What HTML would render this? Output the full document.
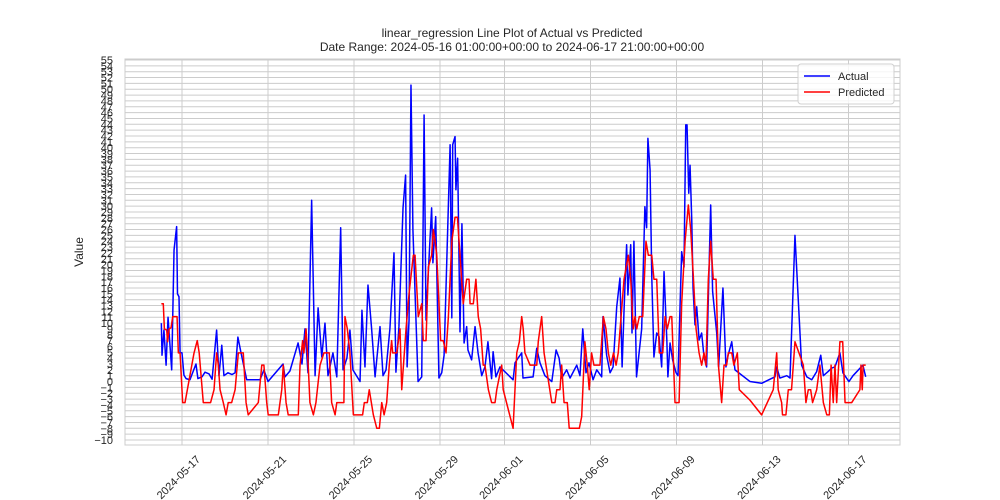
<!DOCTYPE html>
<html><head><meta charset="utf-8"><style>body{margin:0;background:#fff}svg{display:block;font-family:"Liberation Sans",sans-serif}</style></head>
<body>
<svg id="chart" width="1000" height="500" viewBox="0 0 1000 500" xmlns="http://www.w3.org/2000/svg">
<rect width="1000" height="500" fill="#fff"/>
<g id="grid"></g>
<g id="series"></g>
<rect x="125" y="59" width="775" height="386" fill="none" stroke="#cccccc" stroke-width="1"/>
<g id="yticks" font-size="11" fill="#262626" text-anchor="end"></g>
<g id="xticks" font-size="11" fill="#262626" text-anchor="end"></g>
<text x="512" y="37" font-size="12" text-anchor="middle" fill="#262626">linear_regression Line Plot of Actual vs Predicted</text>
<text x="512" y="51" font-size="12" text-anchor="middle" fill="#262626">Date Range: 2024-05-16 01:00:00+00:00 to 2024-06-17 21:00:00+00:00</text>
<text x="0" y="0" font-size="12" fill="#262626" text-anchor="middle" transform="translate(83,252) rotate(-90)">Value</text>
<g>
<rect x="798" y="64" width="96" height="40" rx="3" fill="#fff" fill-opacity="0.8" stroke="#d0d0d0"/>
<line x1="804" y1="76" x2="830" y2="76" stroke="#0000ff" stroke-width="1.5"/>
<text x="838" y="80" font-size="11" fill="#262626">Actual</text>
<line x1="804" y1="92" x2="830" y2="92" stroke="#ff0000" stroke-width="1.5"/>
<text x="838" y="96" font-size="11" fill="#262626">Predicted</text>
</g>
</svg>
<script>
// time in days since 2024-05-16 00:00 UTC
const actualT=[0.04,0.07,0.16,0.26,0.35,0.52,0.63,0.75,0.79,0.86,0.91,1.0,1.09,1.19,1.37,1.65,1.74,1.93,2.07,2.26,2.40,2.61,2.72,2.85,2.95,3.14,3.33,3.47,3.60,3.74,4.01,4.63,4.81,5.0,5.70,5.79,6.02,6.40,6.58,6.72,6.86,7.03,7.19,7.33,7.5,7.65,7.79,8.02,8.2,8.38,8.49,8.67,8.81,8.95,9.28,9.37,9.51,9.65,9.82,9.98,10.21,10.35,10.49,10.67,10.86,10.95,11.09,11.28,11.40,11.47,11.56,11.65,11.74,11.98,12.15,12.26,12.35,12.44,12.53,12.61,12.67,12.8,12.95,13.08,13.19,13.47,13.55,13.59,13.70,13.74,13.82,13.93,14.02,14.12,14.24,14.3,14.47,14.63,14.77,14.94,15.09,15.23,15.4,15.47,15.6,15.79,16.4,16.49,16.63,16.8,16.86,17.33,17.5,17.65,17.88,18.2,18.4,18.54,18.66,18.89,19.05,19.36,19.51,19.64,19.79,19.93,20.12,20.29,20.52,20.58,20.75,20.91,21.05,21.22,21.37,21.47,21.56,21.68,21.74,21.87,21.93,22.02,22.14,22.38,22.53,22.61,22.67,22.77,22.85,22.95,23.08,23.19,23.31,23.42,23.55,23.6,23.7,23.82,23.98,24.07,24.24,24.35,24.43,24.49,24.57,24.63,24.71,24.77,24.86,24.94,25.05,25.17,25.28,25.4,25.59,25.68,25.87,25.96,26.16,26.3,26.4,26.57,26.72,27.42,27.96,28.58,28.66,28.81,29.13,29.28,29.51,29.82,30.06,30.29,30.52,30.71,30.83,31.05,31.22,31.37,31.6,31.74,32.02,32.21,32.67,32.8];
const actualV=[10,4.5,8.8,2.8,11,2,22.5,26.5,15,14.5,5,4.9,1.1,0.5,0.3,3,0.5,0.8,1.6,1.3,0.4,8.8,1.0,6.2,1,1.5,1.2,1.5,7.6,5,0.3,0.3,2,0,3,0.8,1.8,6.6,3,9,1.5,31,1,12.6,4.2,10,1,4.9,0.8,26.3,2,4,8.8,2,0,12.2,2.5,16.5,9,0.8,9.4,1,2,9,22,1.6,9.4,29.7,35.3,2.5,10.5,50.7,26,0,0.8,45.6,10.5,17.4,24,29.7,20.3,28.2,0.6,1.5,4.5,40.5,10.9,40.5,41.9,32.8,38.2,8.5,27,6.6,9.4,5.4,3.7,9.4,4.9,1,2.5,6.8,0.5,5.1,0.8,2.5,0.3,3.2,4,4.9,0.6,0.8,5.7,3.2,1,0,5.4,4,0.6,2,0.6,2.8,1,9,1.5,3.2,0.3,2,0.8,11.1,4.5,1.5,2.5,12.8,17.7,2.5,12.2,23.4,14.8,23.4,8.3,24,0.8,9,29.9,26.3,41.6,36.2,17.9,4.2,8.3,7.7,2.5,18.8,7.1,0.8,6.6,3.7,1.5,1,22.2,19.6,43.9,43.9,32.2,37,27.6,16,9.7,12.8,7.1,8.3,4.2,2.5,30.2,15.4,8.3,2.5,16,2.5,4.5,6.8,2,0,-0.3,0.8,2.5,0.6,1,0.6,25,2.8,0.8,0.3,1.7,4.5,1,1.7,2.3,2.5,4.9,1.5,0,1,2.8,0.8];
const predT=[0.04,0.13,0.18,0.29,0.33,0.4,0.49,0.57,0.77,0.83,0.91,1.03,1.14,1.56,1.71,1.8,1.99,2.33,2.49,2.61,2.69,2.77,2.92,3.05,3.15,3.31,3.47,3.62,3.85,3.98,4.08,4.55,4.71,4.81,4.94,5.01,5.48,5.64,5.71,5.84,5.94,6.41,6.49,6.61,6.67,6.77,6.87,6.95,7.11,7.23,7.42,7.6,7.85,7.96,8.12,8.2,8.53,8.58,8.69,8.81,8.97,9.4,9.48,9.62,9.71,9.9,10.06,10.18,10.29,10.4,10.52,10.64,10.75,10.8,10.99,11.14,11.22,11.42,11.57,11.76,11.84,11.99,12.15,12.22,12.35,12.46,12.61,12.69,12.77,12.85,13.03,13.15,13.28,13.39,13.55,13.7,13.81,13.93,14.08,14.24,14.35,14.4,14.55,14.67,14.78,14.89,15.01,15.09,15.25,15.4,15.56,15.64,15.87,15.94,16.4,16.57,16.69,16.8,16.87,16.95,17.19,17.5,17.57,17.65,17.73,17.84,18.2,18.35,18.43,18.58,18.66,18.77,18.92,19.01,19.48,19.59,19.74,19.85,19.94,20.05,20.16,20.44,20.6,20.72,20.83,20.94,21.07,21.19,21.29,21.56,21.76,21.87,21.99,22.07,22.15,22.27,22.43,22.58,22.69,22.85,22.95,23.08,23.2,23.36,23.47,23.57,23.7,23.78,23.93,24.12,24.24,24.4,24.55,24.66,24.79,24.91,25.05,25.17,25.28,25.37,25.48,25.59,25.71,25.84,25.95,26.1,26.21,26.33,26.41,26.57,26.67,26.83,26.92,27.42,27.96,28.5,28.66,28.73,28.89,28.93,29.09,29.2,29.35,29.51,29.9,30.02,30.13,30.24,30.33,30.52,30.67,30.83,30.99,31.11,31.19,31.29,31.37,31.45,31.6,31.73,31.84,32.15,32.53,32.58,32.64,32.68,32.8];
const predV=[13.3,13.3,9,8.8,6.8,9,9.2,11.1,11.1,4.9,4.9,-3.6,-3.6,4.9,7,4.9,-3.6,-3.6,-1.4,4.9,2.8,-1.4,-3.6,-5.7,-3.6,-3.6,-1.4,4.9,4.9,-3.6,-5.7,-3.6,2.8,2.8,-3.6,-5.7,-5.7,-1.4,2.8,-3.6,-5.7,-5.7,2.8,7,4.9,9,2.8,-3.6,-5.7,-3.6,2.8,4.9,4.9,-3.6,-5.7,-3.6,-3.6,11.1,9,4.9,-5.7,-5.7,-3.6,-3.6,-1.4,-5.7,-8,-8,-3.6,-5.7,-3.6,2.8,7,4.9,4.9,9,-1.4,9,15.4,21.6,21.6,11.1,13.3,7,7,19.6,21.6,26,24,21.6,7,7,4.9,11.1,24,28.1,28.1,21.6,13.3,17.5,17.5,13.3,13.3,17.5,11.1,9,2.8,2.8,-1.4,-3.6,-3.6,-1.4,2.8,-1.4,-8,4.9,6.8,11.1,9,4.9,2.8,2.8,6.8,9,11.1,4.9,-3.6,-3.6,-1.4,-1.4,2.8,-3.6,-3.6,-8,-8,-6,6.8,2.8,-1.4,4.9,2.8,2.8,11.1,9,4.9,2.8,4.9,2.8,4.9,17.5,21.6,17.5,9,11.1,9,11.1,11.1,24,21.6,21.6,17.5,17.5,4.9,4.9,11.1,9,11.1,11.1,-3.6,-3.6,13.3,24,30.2,26,17.5,9,4.9,2.8,4.9,2.8,17.5,24,17.5,17.5,2.8,-3.6,2.8,2.8,4.9,4.9,2.8,4.9,-1.4,-3.2,-5.7,-1.4,4.9,-1.4,-3.6,-5.7,-5.7,-1.4,-1.4,6.8,2.8,-3.6,-1.4,-1.4,-3.6,-1.4,2.8,-3.6,-5.7,-5.7,2.8,-3.6,2.8,-3.6,6.8,6.8,-3.6,-3.6,-1.4,2.8,-1.4,2.8,2.8];
const xTickDays=[1,5,9,13,16,20,24,28,32];
const xTickLabels=["2024-05-17","2024-05-21","2024-05-25","2024-05-29","2024-06-01","2024-06-05","2024-06-09","2024-06-13","2024-06-17"];
const yMin=-10, yMax=55;

const NS="http://www.w3.org/2000/svg";
function xs(t){return 160.5+21.5*t;}
function ys(v){return 60+(55-v)*(380/65);}
const grid=document.getElementById('grid'), yt=document.getElementById('yticks'), xt=document.getElementById('xticks'), ser=document.getElementById('series');
for(let v=yMin;v<=yMax;v++){
  const l=document.createElementNS(NS,'line');
  
  
  l.setAttribute('x1',125);l.setAttribute('x2',900);l.setAttribute('y1',ys(v));l.setAttribute('y2',ys(v));
  l.setAttribute('stroke','#cccccc');l.setAttribute('stroke-width','1');
  grid.appendChild(l);
  const tx=document.createElementNS(NS,'text');
  
  
  tx.setAttribute('x',113);tx.setAttribute('y',ys(v)+4);
  tx.textContent=v<0?'\u2212'+(-v):String(v);
  yt.appendChild(tx);
}
xTickDays.forEach((d,i)=>{
  const x=xs(d);
  const l=document.createElementNS(NS,'line');
  
  
  l.setAttribute('x1',x);l.setAttribute('x2',x);l.setAttribute('y1',59);l.setAttribute('y2',445);
  l.setAttribute('stroke','#cccccc');l.setAttribute('stroke-width','1');
  grid.appendChild(l);
  const tx=document.createElementNS(NS,'text');
  
  
  tx.setAttribute('transform','translate('+(x+19)+',460) rotate(-45)');
  tx.textContent=xTickLabels[i];
  xt.appendChild(tx);
});
function drawLine(T,V,color,name){
  const p=document.createElementNS(NS,'polyline');
  
  
  p.setAttribute('points',T.map((t,i)=>xs(t).toFixed(2)+','+ys(V[i]).toFixed(2)).join(' '));
  p.setAttribute('fill','none');p.setAttribute('stroke',color);p.setAttribute('stroke-width','1.5');p.setAttribute('stroke-linejoin','round');
  ser.appendChild(p);
}
drawLine(actualT,actualV,'#0000ff','actual-line');
drawLine(predT,predV,'#ff0000','predicted-line');
</script>
</body></html>
